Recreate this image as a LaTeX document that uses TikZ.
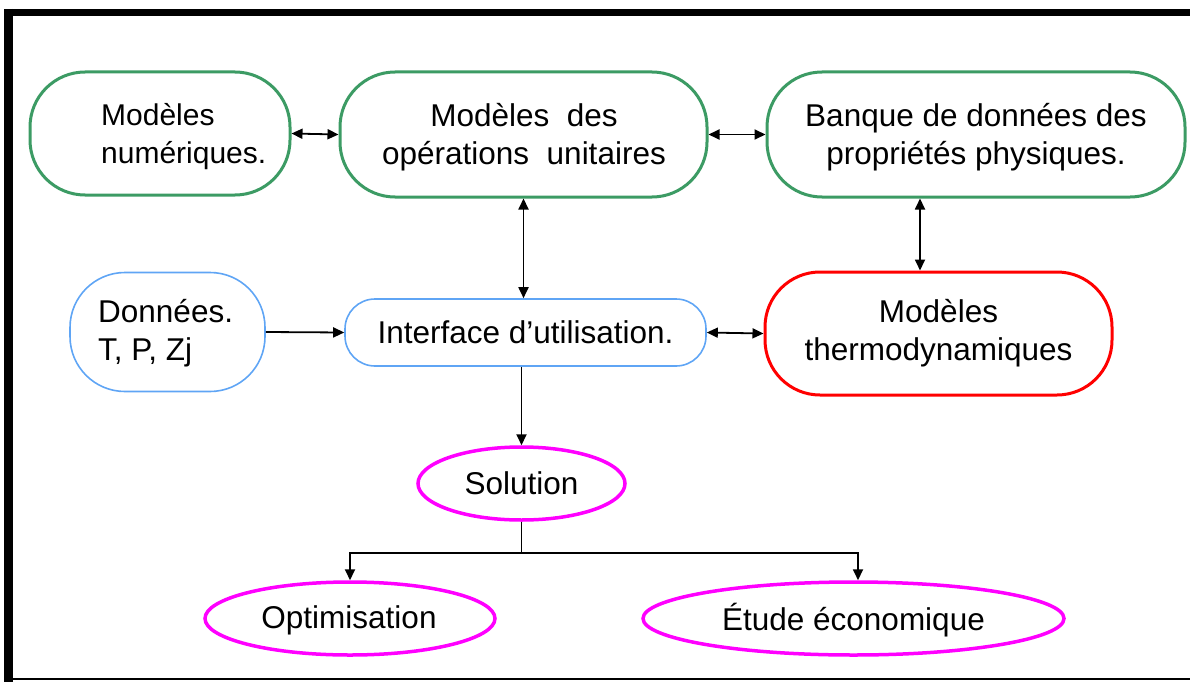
\documentclass[tikz,border=0pt]{standalone}
\usepackage{fontspec}
\setmainfont{Liberation Sans}
\usetikzlibrary{shapes.geometric,arrows.meta}
\definecolor{boxgreen}{RGB}{60,155,100}
\definecolor{boxblue}{RGB}{95,165,245}
\definecolor{boxred}{RGB}{255,0,0}
\definecolor{ovalpink}{RGB}{255,0,255}

\begin{document}
\begin{tikzpicture}[x=1pt,y=-1pt,
  every node/.style={font=\fontsize{31.5}{38}\selectfont, inner sep=0pt, align=center},
  greenbox/.style={draw=boxgreen, line width=3pt, rounded corners=55pt},
  bluebox/.style={draw=boxblue, line width=1.6pt, rounded corners=55pt},
  redbox/.style={draw=boxred, line width=3pt, rounded corners=55pt},
  oval/.style={draw=ovalpink, line width=3.5pt, ellipse},
  both/.style={line width=1.8pt, {Triangle[length=11pt,width=10pt]}-{Triangle[length=11pt,width=10pt]}},
  oneway/.style={line width=1.8pt, -{Triangle[length=11pt,width=10pt]}}
]
\useasboundingbox (0,0) rectangle (1190,682);

% outer frame (top, left, bottom)
\draw[line width=7pt] (4,12.5) -- (1190,12.5);
\draw[line width=9pt] (8.7,9) -- (8.7,682);
\draw[line width=2pt] (4,679) -- (1190,679);

% top row: boxes, then their texts
\node[greenbox, minimum width=260pt, minimum height=123pt] (num) at (160,133.5) {};
\node[greenbox, minimum width=367pt, minimum height=125pt] (ops) at (523.5,134.5) {};
\node[greenbox, minimum width=418pt, minimum height=125pt] (bank) at (976,134.5) {};
\node[anchor=west, align=left, font=\fontsize{30}{38}\selectfont]
  (numtext) at (101,137) {Modèles\\numériques.};
\node (opstext) at (524,137.5) {Modèles\ \ des\\opérations\ \ unitaires};
\node (banktext) at (976,137.5) {Banque de données des\\propriétés physiques.};

% middle row
\node[bluebox, minimum width=195pt, minimum height=119pt] (data) at (167.5,332) {};
\node[anchor=west, align=left] (datatext) at (98,333.5) {Données.\\T,\ P,\ Zj};
\node[bluebox, rounded corners=30pt, minimum width=361pt, minimum height=67pt]
  (iface) at (525.5,332.5) {Interface d’utilisation.};
\node[redbox, minimum width=347pt, minimum height=123pt]
  (thermo) at (938.5,333.5) {Modèles\\thermodynamiques};

% results
\node[oval, minimum width=207pt, minimum height=73pt] (sol) at (521.5,483.5) {Solution};
\node[oval, minimum width=290pt, minimum height=73pt] (opt) at (350,618.5) {};
\node (opttext) at (349,620) {Optimisation};
\node[oval, minimum width=421pt, minimum height=73pt] (eco) at (853.5,618.5) {};
\node (ecotext) at (853.5,620) {Étude économique};

% connectors
\draw[both] (num.east) -- (ops.west);
\draw[both] (ops.east) -- (bank.west);
\draw[both] (ops.south) -- (ops.south |- iface.north);
\draw[both] ([xshift=-56pt]bank.south) -- ([xshift=-56pt]bank.south |- thermo.north);
\draw[oneway] (data.east) -- (iface.west);
\draw[both] (iface.east) -- (thermo.west);
\draw[oneway] (sol.north |- iface.south) -- (sol.north);
\path (sol.south) ++(0,31) coordinate (split);
\draw[line width=1.8pt] (sol.south) -- (split);
\draw[oneway] (split) -| (opt.north);
\draw[oneway] (split) -| ([xshift=4.5pt]eco.north);
\end{tikzpicture}
\end{document}
